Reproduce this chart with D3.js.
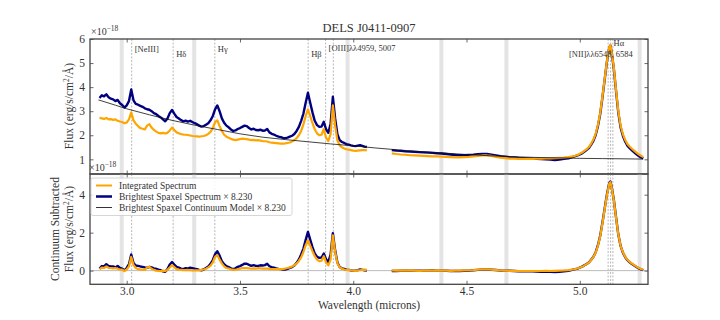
<!DOCTYPE html>
<html>
<head>
<meta charset="utf-8">
<script src="https://cdn.jsdelivr.net/npm/d3@7"></script>
<style>
  body { margin: 0; background: #fff; }
  svg text { font-family: "Liberation Serif", "DejaVu Serif", serif; fill: #333; }
</style>
</head>
<body>
<svg id="chart" width="720" height="320"></svg>
<script>
// left chunk of the spectrum: one value every 0.01 micron from 2.88
var leftStart = 2.88;
var leftStep = 0.01;

var navyTopL = [
  3.55, 3.66, 3.62, 3.70, 3.58, 3.52, 3.49, 3.42, 3.47, 3.33,
  3.26, 3.15, 3.24, 3.42, 3.90, 3.45, 3.30, 3.27, 3.22, 3.18,
  3.12, 3.08, 3.06, 3.00, 2.92, 2.88, 2.80, 2.74, 2.66, 2.58,
  2.70, 2.92, 3.05, 2.90, 2.76, 2.70, 2.63, 2.58, 2.61, 2.57,
  2.60, 2.55, 2.50, 2.46, 2.40, 2.36, 2.38, 2.44, 2.50, 2.62,
  2.80, 3.08, 3.24, 3.00, 2.70, 2.52, 2.40, 2.33, 2.24, 2.18,
  2.20, 2.26, 2.30, 2.35, 2.40, 2.38, 2.30, 2.24, 2.27, 2.22,
  2.21, 2.23, 2.19, 2.20, 2.26, 2.12, 2.06, 2.03, 1.98, 1.94,
  1.92, 1.89, 1.88, 1.90, 1.94, 1.98, 2.05, 2.18, 2.35, 2.60,
  2.90, 3.35, 3.77, 3.35, 2.95, 2.60, 2.42, 2.35, 2.36, 2.56,
  2.25, 2.10, 2.48, 3.60, 2.70, 2.05, 1.80, 1.72, 1.68, 1.63,
  1.61, 1.58, 1.56, 1.55, 1.57, 1.59, 1.56, 1.53, 1.51
];
var orangeTopL = [
  2.72, 2.70, 2.68, 2.72, 2.66, 2.67, 2.64, 2.66, 2.60, 2.57,
  2.55, 2.50, 2.53, 2.66, 2.95, 2.62, 2.48, 2.38, 2.30, 2.27,
  2.24, 2.40, 2.46, 2.32, 2.22, 2.15, 2.10, 2.08, 2.10, 2.07,
  2.10, 2.20, 2.32, 2.22, 2.12, 2.08, 2.05, 2.03, 2.02, 2.01,
  1.99, 1.97, 1.96, 1.95, 1.94, 1.96, 1.97, 2.00, 2.06, 2.14,
  2.30, 2.55, 2.62, 2.38, 2.18, 2.02, 1.94, 1.90, 1.85, 1.82,
  1.80, 1.82, 1.84, 1.86, 1.85, 1.84, 1.82, 1.80, 1.81, 1.79,
  1.80, 1.78, 1.76, 1.75, 1.74, 1.71, 1.69, 1.68, 1.67, 1.66,
  1.65, 1.65, 1.66, 1.68, 1.70, 1.74, 1.79, 1.88, 2.00, 2.18,
  2.45, 2.80, 3.08, 2.80, 2.50, 2.25, 2.08, 2.00, 2.02, 2.26,
  1.90, 1.76, 2.05, 3.24, 2.40, 1.78, 1.58, 1.50, 1.45, 1.42,
  1.40, 1.38, 1.36, 1.35, 1.36, 1.37, 1.38, 1.38, 1.37
];
var navyBotL = [
  0.10, 0.24, 0.23, 0.34, 0.25, 0.22, 0.22, 0.17, 0.25, 0.14,
  0.10, 0.02, 0.14, 0.34, 0.85, 0.40, 0.27, 0.25, 0.22, 0.20,
  0.17, 0.15, 0.20, 0.17, 0.12, 0.10, 0.05, 0.02, -0.04, -0.06,
  0.08, 0.32, 0.45, 0.32, 0.20, 0.16, 0.11, 0.08, 0.13, 0.11,
  0.16, 0.13, 0.10, 0.08, 0.04, 0.02, 0.06, 0.14, 0.22, 0.36,
  0.56, 0.86, 1.02, 0.79, 0.50, 0.34, 0.24, 0.19, 0.12, 0.08,
  0.12, 0.20, 0.24, 0.30, 0.37, 0.36, 0.30, 0.25, 0.29, 0.25,
  0.25, 0.28, 0.27, 0.29, 0.36, 0.23, 0.18, 0.16, 0.12, 0.09,
  0.08, 0.06, 0.06, 0.09, 0.14, 0.19, 0.27, 0.41, 0.59, 0.85,
  1.16, 1.62, 2.04, 1.63, 1.24, 0.90, 0.73, 0.67, 0.69, 0.90,
  0.60, 0.46, 0.84, 1.97, 1.07, 0.43, 0.19, 0.12, 0.09, 0.05,
  0.04, 0.01, 0.00, 0.00, 0.03, 0.06, 0.04, 0.02, 0.01
];
var orangeBotL = [
  0.08, 0.16, 0.14, 0.22, 0.15, 0.14, 0.12, 0.14, 0.10, 0.06,
  0.05, -0.02, 0.06, 0.22, 0.72, 0.30, 0.14, 0.08, 0.06, 0.05,
  0.04, 0.16, 0.20, 0.10, 0.04, 0.00, -0.02, -0.03, 0.00, -0.02,
  0.04, 0.16, 0.30, 0.18, 0.08, 0.05, 0.04, 0.03, 0.03, 0.04,
  0.02, 0.01, 0.01, 0.01, 0.01, 0.04, 0.06, 0.10, 0.17, 0.26,
  0.44, 0.72, 0.82, 0.58, 0.38, 0.22, 0.14, 0.11, 0.07, 0.05,
  0.04, 0.07, 0.10, 0.13, 0.13, 0.13, 0.12, 0.10, 0.12, 0.11,
  0.13, 0.12, 0.11, 0.11, 0.11, 0.09, 0.08, 0.08, 0.08, 0.08,
  0.08, 0.09, 0.11, 0.14, 0.17, 0.22, 0.28, 0.38, 0.51, 0.70,
  0.98, 1.34, 1.60, 1.32, 1.02, 0.76, 0.58, 0.50, 0.52, 0.76,
  0.42, 0.28, 0.58, 1.86, 1.00, 0.38, 0.18, 0.10, 0.06, 0.04,
  0.03, 0.01, 0.00, -0.01, 0.01, 0.02, 0.04, 0.05, 0.04
];

// right chunk, after the detector gap
var rightWave = [
  4.17, 4.19, 4.21, 4.23, 4.25, 4.27, 4.29, 4.31, 4.33, 4.35,
  4.37, 4.39, 4.41, 4.43, 4.45, 4.47, 4.49, 4.51, 4.53, 4.55,
  4.57, 4.59, 4.61, 4.63, 4.65, 4.67, 4.69, 4.71, 4.73, 4.75,
  4.77, 4.79, 4.81, 4.83, 4.85, 4.87, 4.89, 4.91, 4.93, 4.95,
  4.97, 4.99, 5.01, 5.03, 5.04, 5.05, 5.06, 5.07, 5.08, 5.09,
  5.10, 5.11, 5.12, 5.13, 5.135, 5.14, 5.15, 5.16, 5.17, 5.18,
  5.19, 5.20, 5.21, 5.22, 5.23, 5.24, 5.25, 5.26, 5.27, 5.28
];
var navyTopR = [
  1.38, 1.36, 1.35, 1.33, 1.32, 1.31, 1.30, 1.29, 1.28, 1.27,
  1.25, 1.24, 1.22, 1.20, 1.18, 1.17, 1.17, 1.18, 1.19, 1.21,
  1.22, 1.22, 1.19, 1.16, 1.13, 1.11, 1.09, 1.08, 1.06, 1.05,
  1.04, 1.03, 1.02, 1.01, 1.00, 0.99, 0.97, 0.99, 1.02, 1.04,
  1.10, 1.16, 1.25, 1.39, 1.47, 1.61, 1.77, 2.01, 2.38, 2.88,
  3.58, 4.33, 5.08, 5.65, 5.73, 5.48, 4.78, 3.83, 2.93, 2.33,
  1.98, 1.74, 1.57, 1.46, 1.37, 1.29, 1.21, 1.14, 1.08, 1.04
];
var orangeTopR = [
  1.25, 1.22, 1.20, 1.19, 1.17, 1.16, 1.15, 1.14, 1.13, 1.12,
  1.12, 1.11, 1.10, 1.09, 1.08, 1.08, 1.09, 1.10, 1.12, 1.14,
  1.16, 1.16, 1.14, 1.10, 1.07, 1.05, 1.03, 1.03, 1.02, 1.02,
  1.02, 1.02, 1.03, 1.03, 1.04, 1.04, 1.05, 1.06, 1.07, 1.09,
  1.12, 1.18, 1.28, 1.42, 1.51, 1.65, 1.82, 2.06, 2.43, 2.93,
  3.62, 4.36, 5.10, 5.67, 5.74, 5.50, 4.82, 3.88, 2.99, 2.40,
  2.05, 1.81, 1.64, 1.53, 1.44, 1.36, 1.28, 1.21, 1.15, 1.10
];
var navyBotR = [
  -0.02, -0.02, -0.01, -0.01, -0.01, 0.00, 0.00, 0.00, 0.01, 0.01,
  0.00, 0.00, -0.01, -0.02, -0.02, -0.02, -0.01, 0.00, 0.02, 0.04,
  0.06, 0.06, 0.05, 0.03, 0.01, 0.00, -0.01, -0.02, -0.03, -0.03,
  -0.03, -0.04, -0.05, -0.06, -0.06, -0.06, -0.08, -0.06, -0.03, -0.01,
  0.05, 0.11, 0.21, 0.35, 0.43, 0.57, 0.73, 0.97, 1.34, 1.84,
  2.54, 3.29, 4.04, 4.61, 4.70, 4.45, 3.75, 2.80, 1.90, 1.30,
  0.95, 0.72, 0.55, 0.44, 0.35, 0.27, 0.19, 0.12, 0.07, 0.03
];
var orangeBotR = [
  0.01, 0.00, 0.01, 0.00, 0.01, 0.00, -0.01, 0.00, 0.01, 0.00,
  0.01, 0.00, 0.00, -0.01, 0.00, 0.00, 0.01, 0.02, 0.03, 0.05,
  0.07, 0.07, 0.05, 0.03, 0.01, 0.00, -0.01, -0.01, -0.02, -0.02,
  -0.02, -0.02, -0.02, -0.02, -0.01, -0.02, -0.01, 0.00, 0.01, 0.03,
  0.06, 0.11, 0.20, 0.34, 0.42, 0.56, 0.72, 0.95, 1.31, 1.80,
  2.50, 3.25, 4.00, 4.58, 4.66, 4.42, 3.72, 2.78, 1.90, 1.31,
  0.97, 0.74, 0.57, 0.46, 0.37, 0.29, 0.21, 0.14, 0.09, 0.05
];

// continuum model of the brightest spaxel (x 8.230)
var modelWave = [2.875, 2.95, 3.0, 3.1, 3.2, 3.3, 3.4, 3.5, 3.6, 3.7, 3.8, 3.9, 4.0,
                 4.1, 4.2, 4.3, 4.4, 4.5, 4.6, 4.7, 4.8, 4.9, 5.0, 5.1, 5.2, 5.28];
var modelFlux = [3.47, 3.25, 3.10, 2.85, 2.62, 2.42, 2.24, 2.06, 1.92, 1.82, 1.73, 1.64, 1.56,
                 1.47, 1.39, 1.32, 1.26, 1.20, 1.15, 1.11, 1.08, 1.06, 1.04, 1.03, 1.02, 1.01];

// masked regions (grey) and emission line positions (observed, microns)
var bandCenters = [2.978, 3.298, 3.975, 4.389, 4.676, 5.264];
var lineWaves = [3.022, 3.205, 3.389, 3.801, 3.878, 3.912, 5.125, 5.136, 5.146];
var lineNames = ['[NeIII]', 'H\u03B4', 'H\u03B3', 'H\u03B2', '[OIII]\u03BB\u03BB4959, 5007',
                 '[NII]\u03BB\u03BB6548, 6584', 'H\u03B1'];
var lineNameWaves = [3.022, 3.205, 3.389, 3.801, 3.878, 5.146, 5.136];

var xTicks = [3.0, 3.5, 4.0, 4.5, 5.0];
var topTicks = [1, 2, 3, 4, 5, 6];
var botTicks = [0, 2, 4];
var legendNames = ['Integrated Spectrum', 'Brightest Spaxel Spectrum \u00D7 8.230',
                   'Brightest Spaxel Continuum Model \u00D7 8.230'];

var NAVY = '#000080', ORANGE = '#ffa500', FRAME = '#444';
var SERIF = '"Liberation Serif", "DejaVu Serif", serif';

var svg = d3.select('#chart');

var x = d3.scaleLinear().domain([2.838, 5.301]).range([90, 648]);
var yTop = d3.scaleLinear().domain([0.39, 6]).range([174, 39]);
var yBot = d3.scaleLinear().domain([-0.72, 5.09]).range([284.3, 174]);

function pairs(ws, vs) {
  return vs.map(function(v, i) { return [ws[i], v]; });
}
var leftWave = navyTopL.map(function(d, i) { return +(leftStart + i * leftStep).toFixed(3); });

function drawPanel(y, series, ticks, zeroLine) {
  var g = svg.append('g');
  var y0 = y.range()[1], y1 = y.range()[0];

  g.selectAll('rect.band')
      .data(bandCenters)
      .enter()
      .append('rect')
      .attr('class', 'band')
      .attr('x', function(d) { return x(d) - 2; })
      .attr('y', y0)
      .attr('width', 4)
      .attr('height', y1 - y0)
      .attr('fill', '#e4e4e4');

  g.selectAll('line.em')
      .data(lineWaves)
      .enter()
      .append('line')
      .attr('class', 'em')
      .attr('x1', function(d) { return x(d); })
      .attr('x2', function(d) { return x(d); })
      .attr('y1', y0)
      .attr('y2', y1)
      .attr('stroke', '#999')
      .attr('stroke-width', 0.7)
      .attr('stroke-dasharray', '2,1.5');

  if (zeroLine) {
    g.append('line')
        .attr('x1', 90).attr('x2', 648)
        .attr('y1', y(0)).attr('y2', y(0))
        .attr('stroke', '#bbb').attr('stroke-width', 1);
  }

  var line = d3.line()
      .x(function(d) { return x(d[0]); })
      .y(function(d) { return y(d[1]); });

  series.forEach(function(s) {
    g.append('path')
        .datum(s.data)
        .attr('d', line)
        .attr('fill', 'none')
        .attr('stroke', s.color)
        .attr('stroke-width', s.width)
        .attr('stroke-linejoin', 'round');
  });

  // inward ticks on all four sides
  var axB = d3.axisBottom(x).tickValues(xTicks).tickSizeInner(-3.5).tickSizeOuter(0).tickPadding(3)
      .tickFormat(d3.format('.1f'));
  var axT = d3.axisTop(x).tickValues(xTicks).tickSizeInner(-3.5).tickSizeOuter(0).tickFormat('');
  var axL = d3.axisLeft(y).tickValues(ticks).tickSizeInner(-3.5).tickSizeOuter(0).tickPadding(5)
      .tickFormat(d3.format('d'));
  var axR = d3.axisRight(y).tickValues(ticks).tickSizeInner(-3.5).tickSizeOuter(0).tickFormat('');

  var gb = g.append('g').attr('transform', 'translate(0,' + y1 + ')').call(axB);
  g.append('g').attr('transform', 'translate(0,' + y0 + ')').call(axT);
  g.append('g').attr('transform', 'translate(90,0)').call(axL);
  g.append('g').attr('transform', 'translate(648,0)').call(axR);
  g.selectAll('.domain').remove();
  g.selectAll('.tick line').attr('stroke', FRAME).attr('stroke-width', 0.8);
  g.selectAll('.tick text').attr('font-size', 11.5).attr('fill', '#444')
      .attr('font-family', SERIF).style('font-family', SERIF);

  g.append('rect')
      .attr('x', 90).attr('y', y0)
      .attr('width', 558).attr('height', y1 - y0)
      .attr('fill', 'none').attr('stroke', FRAME).attr('stroke-width', 1.3);
  return gb;
}

// top panel: observed spectra and the continuum model
var topAxis = drawPanel(yTop, [
  { data: pairs(leftWave, navyTopL), color: NAVY, width: 2.4 },
  { data: pairs(rightWave, navyTopR), color: NAVY, width: 2.4 },
  { data: pairs(leftWave, orangeTopL), color: ORANGE, width: 2.2 },
  { data: pairs(rightWave, orangeTopR), color: ORANGE, width: 2.2 },
  { data: pairs(modelWave, modelFlux), color: '#111', width: 0.8 }
], topTicks, false);
topAxis.selectAll('.tick text').remove();

// bottom panel: continuum subtracted
drawPanel(yBot, [
  { data: pairs(leftWave, navyBotL), color: NAVY, width: 2.4 },
  { data: pairs(rightWave, navyBotR), color: NAVY, width: 2.4 },
  { data: pairs(leftWave, orangeBotL), color: ORANGE, width: 2.2 },
  { data: pairs(rightWave, orangeBotR), color: ORANGE, width: 2.2 }
], botTicks, true);

// line labels
var labelDy = [52, 57, 52, 57, 51, 56.5, 46];
svg.append('g').selectAll('text')
    .data(lineNames)
    .enter()
    .append('text')
    .attr('x', function(d, i) { return i === 5 ? x(lineNameWaves[i]) + 20 : x(lineNameWaves[i]) + 3; })
    .attr('y', function(d, i) { return labelDy[i]; })
    .attr('text-anchor', function(d, i) { return i === 5 ? 'end' : 'start'; })
    .attr('font-size', 8.5)
    .text(function(d) { return d; });

// title
svg.append('text')
    .attr('x', 369).attr('y', 31.5)
    .attr('text-anchor', 'middle')
    .attr('font-size', 12.5)
    .text('DELS J0411-0907');

// offset labels
function offsetLabel(xp, yp) {
  var t = svg.append('text').attr('x', xp).attr('y', yp).attr('font-size', 10);
  t.append('tspan').text('\u00D710');
  t.append('tspan').attr('dy', -4).attr('font-size', 7.5).text('\u221218');
}
offsetLabel(91, 35);
offsetLabel(89, 171);

// axis labels
function fluxLabel(t) {
  t.append('tspan').text('Flux (erg/s/cm');
  t.append('tspan').attr('dy', -4).attr('font-size', 7.5).text('2');
  t.append('tspan').attr('dy', 4).text('/\u00C5)');
}
var yl1 = svg.append('text')
    .attr('transform', 'translate(73,106) rotate(-90)')
    .attr('text-anchor', 'middle')
    .attr('font-size', 11.5);
fluxLabel(yl1);

svg.append('text')
    .attr('transform', 'translate(59,229) rotate(-90)')
    .attr('text-anchor', 'middle')
    .attr('font-size', 11.5)
    .text('Continuum Subtracted');
var yl2 = svg.append('text')
    .attr('transform', 'translate(73,229) rotate(-90)')
    .attr('text-anchor', 'middle')
    .attr('font-size', 11.5);
fluxLabel(yl2);

svg.append('text')
    .attr('x', 369).attr('y', 309)
    .attr('text-anchor', 'middle')
    .attr('font-size', 11.5)
    .text('Wavelength (microns)');

// legend
var leg = svg.append('g').attr('transform', 'translate(91,178)');
leg.append('rect')
    .attr('width', 201).attr('height', 37.5)
    .attr('rx', 2)
    .attr('fill', '#fff').attr('fill-opacity', 0.85)
    .attr('stroke', '#ccc').attr('stroke-width', 0.8);
var legStyle = [
  { color: ORANGE, width: 2 },
  { color: NAVY, width: 2.5 },
  { color: '#333', width: 1 }
];
var item = leg.selectAll('g.item')
    .data(legendNames)
    .enter()
    .append('g')
    .attr('class', 'item')
    .attr('transform', function(d, i) { return 'translate(0,' + (7.5 + 11 * i) + ')'; });
item.append('line')
    .attr('x1', 5).attr('x2', 21)
    .attr('stroke', function(d, i) { return legStyle[i].color; })
    .attr('stroke-width', function(d, i) { return legStyle[i].width; });
item.append('text')
    .attr('x', 28).attr('y', 3.2)
    .attr('font-size', 9.5)
    .text(function(d) { return d; });
</script>
</body>
</html>
